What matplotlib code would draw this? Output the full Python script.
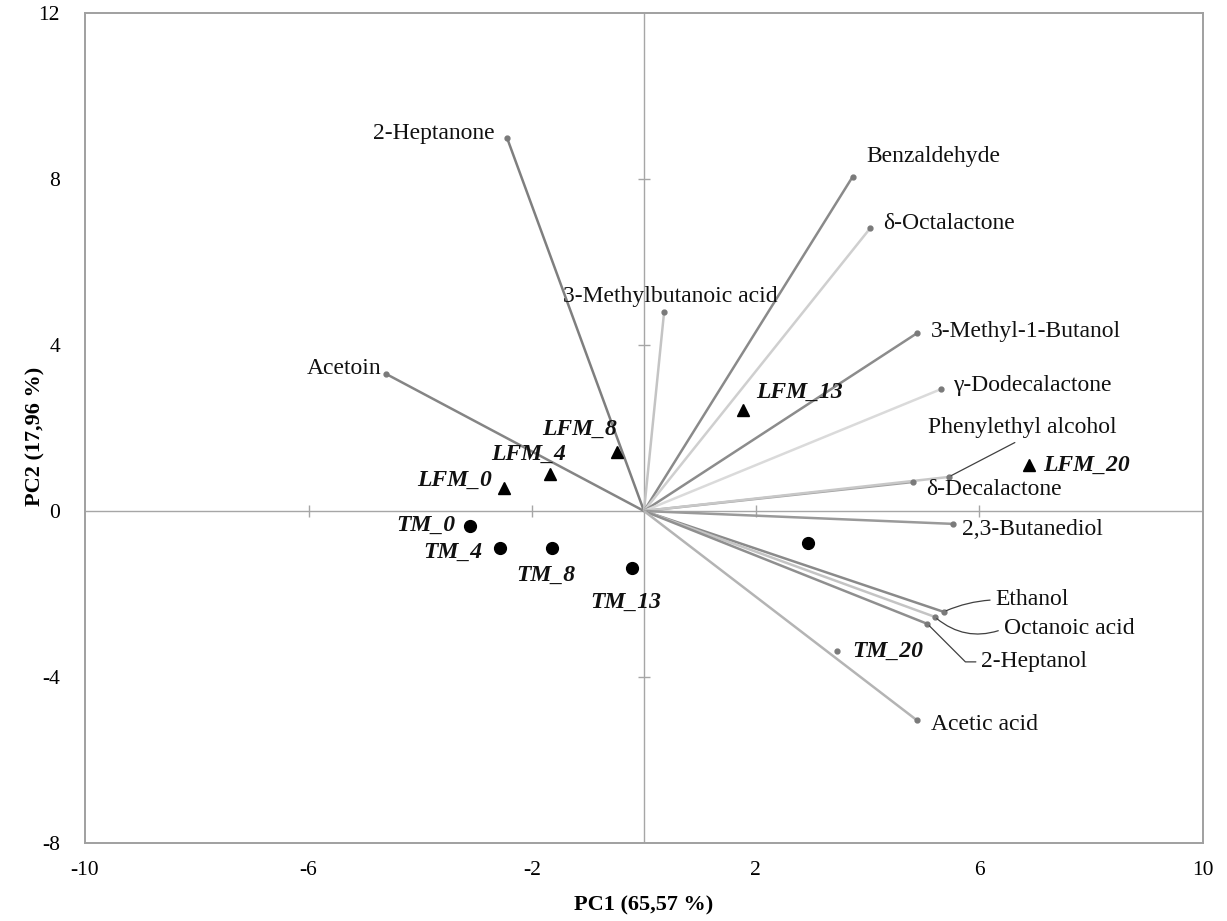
import matplotlib
matplotlib.use("Agg")
import matplotlib.pyplot as plt

# ── loadings (variable vectors) ──────────────────────────────────────────────
var_names = ["2-Heptanone", "Acetoin", "3-Methylbutanoic acid", "Benzaldehyde",
             "δ-Octalactone", "3-Methyl-1-Butanol", "γ-Dodecalactone",
             "δ-Decalactone", "Phenylethyl alcohol", "2,3-Butanediol",
             "Ethanol", "Octanoic acid", "2-Heptanol", "Acetic acid"]
var_pc1 = [-2.45, -4.61, 0.36, 3.73, 4.05, 4.89, 5.32,
           4.82, 5.45, 5.52, 5.36, 5.20, 5.07, 4.88]
var_pc2 = [8.99, 3.30, 4.80, 8.05, 6.82, 4.29, 2.94,
           0.70, 0.82, -0.31, -2.43, -2.55, -2.72, -5.04]

# ── scores (samples) ─────────────────────────────────────────────────────────
lfm_names = ["LFM_0", "LFM_4", "LFM_8", "LFM_13", "LFM_20"]
lfm_pc1 = [-2.50, -1.68, -0.48, 1.77, 6.89]
lfm_pc2 = [0.55, 0.89, 1.42, 2.43, 1.11]

tm_names = ["TM_0", "TM_4", "TM_8", "TM_13", "TM_20"]
tm_pc1 = [-3.11, -2.57, -1.64, -0.21, 2.93]
tm_pc2 = [-0.36, -0.89, -0.89, -1.37, -0.77]

# stray unlabeled dot next to TM_20 label
stray_pc1 = [3.45]
stray_pc2 = [-3.37]

x_ticks = [-10, -6, -2, 2, 6, 10]
y_ticks = [-8, -4, 0, 4, 8, 12]

# ── styling / label layout (pixel offsets at dpi 100) ────────────────────────
LINE_COL = {
    "2-Heptanone": "#7f7f7f", "Acetoin": "#858585",
    "3-Methylbutanoic acid": "#c4c4c4", "Benzaldehyde": "#8a8a8a",
    "δ-Octalactone": "#cfcfcf", "3-Methyl-1-Butanol": "#8c8c8c",
    "γ-Dodecalactone": "#dadada", "δ-Decalactone": "#a0a0a0",
    "Phenylethyl alcohol": "#c8c8c8", "2,3-Butanediol": "#9a9a9a",
    "Ethanol": "#8a8a8a", "Octanoic acid": "#c4c4c4",
    "2-Heptanol": "#8f8f8f", "Acetic acid": "#b4b4b4",
}
# (dx, dy, ha, leader)
VAR_LBL = {
    "2-Heptanone": (-12, 4, "right", None),
    "Acetoin": (-5, 6, "right", None),
    "3-Methylbutanoic acid": (6, 15, "center", None),
    "Benzaldehyde": (14, 20, "left", None),
    "δ-Octalactone": (13, 4, "left", None),
    "3-Methyl-1-Butanol": (14, 1, "left", None),
    "γ-Dodecalactone": (12, 3, "left", None),
    "δ-Decalactone": (13, -8, "left", None),
    "Phenylethyl alcohol": (74, 49, "center", ((0.5, 0.0), "arc3,rad=0")),
    "2,3-Butanediol": (9, -6, "left", None),
    "Ethanol": (52, 12, "left", ((0.0, 0.5), "arc3,rad=0.1")),
    "Octanoic acid": (69, -12, "left", ((0.0, 0.5), "arc3,rad=-0.3")),
    "2-Heptanol": (54, -38, "left", ((0.0, 0.5), "angle,angleA=180,angleB=-45,rad=0")),
    "Acetic acid": (14, -4, "left", None),
}
LFM_LBL = {"LFM_0": (-12, 8, "right"), "LFM_4": (-21, 20, "center"),
           "LFM_8": (0, 23, "right"), "LFM_13": (13, 18, "left"),
           "LFM_20": (14, 0, "left")}
TM_LBL = {"TM_0": (-15, 1, "right"), "TM_4": (-18, -4, "right"),
          "TM_8": (-6, -27, "center"), "TM_13": (-6, -34, "center"),
          "TM_20": (44, -108, "left")}

SERIF = "Liberation Serif"
plt.rcParams["font.family"] = SERIF


def px_to_pt(v):
    return v * 72.0 / 100.0


fig = plt.figure(figsize=(12.27, 9.21), dpi=100)
ax = fig.add_axes([85 / 1227, 78 / 921, 1118 / 1227, 830 / 921])
ax.set_xlim(-10, 10)
ax.set_ylim(-8, 12)

for sp in ax.spines.values():
    sp.set_color("#a0a0a0")
    sp.set_linewidth(1.4)

ax.set_xticks(x_ticks)
ax.set_yticks(y_ticks)
ax.set_xticklabels([str(t) for t in x_ticks])
ax.set_yticklabels([str(t) for t in y_ticks])
ax.tick_params(axis="x", length=0, pad=13, labelsize=15.5)
ax.tick_params(axis="y", length=0, pad=18, labelsize=15.5)

# centre axes with small tick marks
ax.axhline(0, color="#a6a6a6", lw=1.0, zorder=1)
ax.axvline(0, color="#a6a6a6", lw=1.0, zorder=1)
inner_x = [t for t in x_ticks if -10 < t < 10]
inner_y = [t for t in y_ticks if -8 < t < 12 and t != 0]
ax.plot(inner_x, [0] * len(inner_x), ls="none", marker="|", ms=9,
        mew=1.0, color="#a6a6a6", zorder=1)
ax.plot([0] * len(inner_y), inner_y, ls="none", marker="_", ms=9,
        mew=1.0, color="#a6a6a6", zorder=1)

# loading vectors
for name, x, y in zip(var_names, var_pc1, var_pc2):
    ax.plot([0, x], [0, y], color=LINE_COL[name], lw=1.8,
            solid_capstyle="butt", zorder=2)
ax.plot(var_pc1, var_pc2, ls="none", marker="o", ms=3.5,
        color="#7a7a7a", zorder=3)
ax.plot(stray_pc1, stray_pc2, ls="none", marker="o", ms=3.5,
        color="#7a7a7a", zorder=3)

for name, x, y in zip(var_names, var_pc1, var_pc2):
    dx, dy, ha, leader = VAR_LBL[name]
    kw = {}
    if leader is not None:
        relpos, cstyle = leader
        kw["arrowprops"] = dict(arrowstyle="-", color="#404040", lw=0.9,
                                shrinkA=2, shrinkB=2, relpos=relpos,
                                connectionstyle=cstyle)
    ax.annotate(name, xy=(x, y), xytext=(px_to_pt(dx), px_to_pt(dy)),
                textcoords="offset points", ha=ha, va="center",
                fontsize=17, color="#111111", zorder=4, **kw)

# scores
ax.plot(lfm_pc1, lfm_pc2, ls="none", marker="^", ms=8.5,
        color="black", zorder=5)
ax.plot(tm_pc1, tm_pc2, ls="none", marker="o", ms=8.5,
        color="black", zorder=5)

for names, xs, ys, lbl in ((lfm_names, lfm_pc1, lfm_pc2, LFM_LBL),
                           (tm_names, tm_pc1, tm_pc2, TM_LBL)):
    for name, x, y in zip(names, xs, ys):
        dx, dy, ha = lbl[name]
        ax.annotate(name, xy=(x, y), xytext=(px_to_pt(dx), px_to_pt(dy)),
                    textcoords="offset points", ha=ha, va="center",
                    fontsize=17, fontweight="bold", fontstyle="italic",
                    color="#111111", zorder=6)

ax.set_xlabel("PC1 (65,57 %)", fontsize=16, fontweight="bold")
ax.set_ylabel("PC2 (17,96 %)", fontsize=16, fontweight="bold")
ax.xaxis.set_label_coords(0.5, -0.063)
ax.yaxis.set_label_coords(-0.035, 0.49)

fig.savefig("out.png", dpi=100)
